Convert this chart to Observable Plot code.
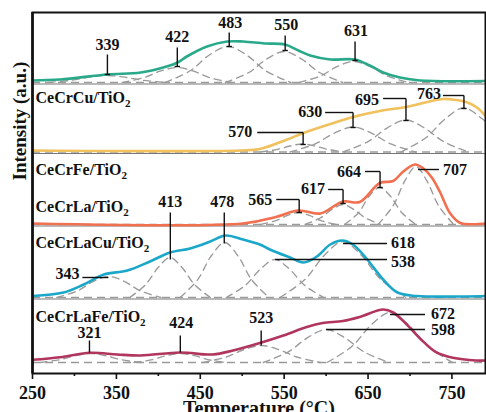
<!DOCTYPE html>
<html><head><meta charset="utf-8">
<script src="https://cdn.jsdelivr.net/npm/d3@7"></script>
<script src="https://cdn.jsdelivr.net/npm/@observablehq/plot@0.6"></script>
<style>html,body{margin:0;padding:0;background:#fff;overflow:hidden}</style>
</head><body><div id="chart"></div>
<script>
// ---------- data (temperature °C, intensity a.u. above each trace's baseline) ----------
const panelNames = ["CeCrCu/TiO2", "CeCrFe/TiO2", "CeCrLa/TiO2", "CeCrLaCu/TiO2", "CeCrLaFe/TiO2"];
const xTicksMajor = [250, 350, 450, 550, 650, 750];
const xTicksMinor = [300, 400, 500, 600, 700];

// solid traces
const greenT  = [250,283,339,379,410,423,434,458,482,501,527,551,567,581,605,634,652,668,688,712,790];
const greenI  = [2,3,8,10,16,20,26,36,41,41,39,38,32,27,23,23,17,10,5,2,1.5];
const yellowT = [250,498,521,552,573,605,632,664,695,739,755,767,779,790];
const yellowI = [1.5,1.5,3,12,19,28,35,41,45,53,52,50,45,36];
const orangeT = [250,501,540,567,593,620,640,664,680,692,706,716,726,736,748,760,790];
const orangeI = [1,1,7.5,14,11,23,22.5,41.5,43.5,53,60,56,47,32,11,1.5,1];
const blueT   = [250,287,311,335,363,390,414,438,462,480,501,521,533,557,573,589,605,619,632,649,668,685,708,790];
const blueI   = [1.5,5,13,23,27,36,45,49,56,62,58,53,48,40,35,41,53,57,53,38,18,5,1.5,1.5];
const redT    = [250,283,319,351,379,426,465,489,521,549,577,596,620,640,668,680,695,712,731,751,779,790];
const redI    = [2.7,5.3,9.7,8,7,10,8,12,19.5,27,35.5,39.5,41.5,45.5,53,50,39,24,10.3,4.7,2,2];

// fitted (dashed) component peaks, [T, I] samples
const greenPeaks = [
  [[269,0],[297,2.3],[318,5.3],[339,7],[360,5.3],[381,2.3],[409,0]],
  [[357,0],[383,4.9],[402,11.3],[422,15],[442,11.3],[461,4.9],[487,0]],
  [[408,0],[438,11.7],[460,27],[483,36],[506,27],[528,11.7],[558,0]],
  [[480,0],[508,10],[529,23.4],[550,31],[571,23.4],[592,10],[620,0]],
  [[568,0],[594,6.8],[613,15.9],[633,21],[653,15.9],[672,6.8],[698,0]]
];
const yellowPeaks = [
  [[522,0],[542,2.6],[557,6],[572,8],[587,6],[602,2.6],[622,0]],
  [[557,0],[587,8.1],[610,18.9],[632,25],[654,18.9],[677,8.1],[707,0]],
  [[620,0],[650,10.4],[673,24.2],[695,32],[717,24.2],[740,10.4],[770,0]],
  [[689,0],[719,14.3],[742,33.2],[764,44],[786,33.2],[809,14.3],[839,0]]
];
const orangePeaks = [
  [[522,0],[540,3.9],[554,9.1],[567,12],[580,9.1],[594,3.9],[612,0]],
  [[575,0],[593,6.5],[607,15.1],[620,20],[633,15.1],[647,6.5],[665,0]],
  [[622,0],[639,12],[651,28],[664,37],[677,28],[690,12],[707,0]],
  [[662,0],[680,18.9],[694,43.8],[707,58],[720,43.8],[734,18.9],[752,0]]
];
const bluePeaks = [
  [[279,0],[304,6.8],[322,15.9],[341,21],[360,15.9],[378,6.8],[403,0]],
  [[366,0],[385,13],[400,30.2],[414,40],[428,30.2],[443,13],[462,0]],
  [[426,0],[447,17.9],[463,41.5],[479,55],[495,41.5],[511,17.9],[532,0]],
  [[481,0],[504,12.4],[522,28.7],[539,38],[556,28.7],[574,12.4],[597,0]],
  [[545,0],[575,18.2],[598,42.3],[620,56],[642,42.3],[665,18.2],[695,0]]
];
const redPeaks = [
  [[259,0],[283,2.9],[301,6.8],[319,9],[337,6.8],[355,2.9],[379,0]],
  [[371,0],[393,2.9],[409,6.8],[426,9],[443,6.8],[459,2.9],[481,0]],
  [[453,0],[481,5.5],[502,12.8],[523,17],[544,12.8],[565,5.5],[593,0]],
  [[525,0],[555,10.7],[578,24.9],[600,33],[622,24.9],[645,10.7],[675,0]],
  [[601,0],[631,16.2],[654,37.8],[676,50],[698,37.8],[721,16.2],[751,0]]
];

// peak labels
const greenLabels  = ["339","422","483","550","631"];
const yellowLabels = ["570","630","695","763"];
const orangeLabels = ["565","617","664","707"];
const blueLabels   = ["343","413","478","618","538"];
const redLabels    = ["321","424","523","672","598"];

// ---------- layout (stack offsets, annotation placement) ----------
const panelBase = [291, 221.5, 149, 76, 11];
const separators = [289.5, 220, 147.5, 74.5];
const colors = ["#2aa98a", "#f0c15c", "#f0704f", "#1ba7c9", "#b1365e"];
const panelLabelPos = [[253.6,276],[253.6,204],[253.6,167],[253.6,131],[253.6,57]];
// label anchor [T, v] and leader polyline, cap flag
const greenAnno = [
  [339.3,329,[[339.3,319],[339.3,299]],1],
  [422.6,337,[[422.6,326],[422.6,307]],1],
  [485.7,351,[[484.5,341],[484.5,327]],1],
  [552.4,349,[[551.2,338],[551.2,323]],1],
  [635.7,343,[[634.5,332],[634.5,313]],1]
];
const yellowAnno = [
  [497.6,242,[[517.9,241],[572.6,241],[572.6,229]],1],
  [581,262,[[598.8,261],[632.1,261],[632.1,246]],1],
  [648.8,274,[[667.9,275],[695.2,275],[695.2,253]],1],
  [722.6,280,[[739.3,278],[764.3,278],[764.3,265]],1]
];
const orangeAnno = [
  [521.4,174,[[540.5,174],[567.9,174],[567.9,161]],1],
  [584.5,185,[[602.4,184],[620.2,184],[620.2,170]],1],
  [627.4,202,[[646.4,202],[664.3,202],[664.3,186]],1],
  [753.6,204,[[709.5,204],[734.5,204]],0]
];
const blueAnno = [
  [291.7,100,[[309.5,96],[340.5,96]],0],
  [414.3,172,[[414.3,161],[414.3,114]],0],
  [476.2,172,[[478.6,161],[478.6,130]],0],
  [691.7,131,[[620.2,130],[672.6,130]],0],
  [691.7,112,[[539.3,114],[672.6,114]],0]
];
const redAnno = [
  [317.9,41,[[317.9,33],[317.9,21]],0],
  [427.4,51,[[426.2,38],[426.2,21]],0],
  [522.6,56,[[522.6,43],[522.6,28]],0],
  [739.3,60,[[676.2,59],[717.9,59]],0],
  [739.3,44,[[600,44],[717.9,44]],0]
];

// ---------- build tables ----------
const traceT = [greenT, yellowT, orangeT, blueT, redT];
const traceI = [greenI, yellowI, orangeI, blueI, redI];
const peaks = [greenPeaks, yellowPeaks, orangePeaks, bluePeaks, redPeaks];
const labels = [greenLabels, yellowLabels, orangeLabels, blueLabels, redLabels];
const annos = [greenAnno, yellowAnno, orangeAnno, blueAnno, redAnno];

const traceRows = traceT.map((Ts, k) => Ts.map((t, i) => ({t, v: panelBase[k] + traceI[k][i]})));
const peakRows = peaks.flatMap((list, k) => list.flatMap((pts, j) =>
  pts.map(([t, i]) => ({id: k + "-" + j, t, v: panelBase[k] + i}))));
const labelRows = labels.flatMap((ls, k) => ls.map((s, j) => ({s, t: annos[k][j][0], v: annos[k][j][1]})));
const segRows = [];
annos.forEach(list => list.forEach(([tx, ty, pts, cap]) => {
  for (let i = 0; i < pts.length - 1; i++)
    segRows.push({x1: pts[i][0], y1: pts[i][1], x2: pts[i+1][0], y2: pts[i+1][1]});
  if (cap) {
    const [bx, by] = pts[pts.length - 1];
    segRows.push({x1: bx - 3.2, y1: by, x2: bx + 3.2, y2: by});
  }
}));
const nameRows = panelNames.map((s, k) => ({s, t: panelLabelPos[k][0], v: panelLabelPos[k][1]}));

const plot = Plot.plot({
  width: 486, height: 412,
  marginLeft: 32, marginRight: 1, marginTop: 12, marginBottom: 39,
  x: {domain: [250, 790], label: null},
  y: {domain: [0, 361], axis: null, label: null},
  style: {fontFamily: "'Liberation Serif','Times New Roman',serif", fontWeight: "bold", fontSize: "16px", color: "#111", background: "#fff", overflow: "hidden"},
  marks: [
    Plot.ruleY(separators, {stroke: "#777", strokeWidth: 1}),
    Plot.ruleY(panelBase, {stroke: "#9a9a9a", strokeWidth: 1.6, strokeDasharray: "8,5"}),
    Plot.line(peakRows, {x: "t", y: "v", z: "id", curve: "catmull-rom", stroke: "#9a9a9a", strokeWidth: 1.35, strokeDasharray: "7,5", clip: true}),
    ...traceRows.map((rows, k) => Plot.line(rows, {x: "t", y: "v", curve: "catmull-rom", stroke: colors[k], strokeWidth: 2.6, clip: true})),
    Plot.link(segRows, {x1: "x1", y1: "y1", x2: "x2", y2: "y2", stroke: "#111", strokeWidth: 1.4}),
    Plot.text(labelRows, {x: "t", y: "v", text: "s", fontSize: 16, fill: "#111"}),
    Plot.text(nameRows, {x: "t", y: "v", text: "s", fontSize: 16, fill: "#111", textAnchor: "start"}),
    Plot.text(["Intensity (a.u.)"], {y: [193], frameAnchor: "left", dx: -13, rotate: -90, fontSize: 19, fill: "#111"}),
    Plot.text(["Temperature (°C)"], {x: [520], frameAnchor: "bottom", dy: 27, lineAnchor: "top", fontSize: 20, fill: "#111"}),
    Plot.frame({stroke: "#111", strokeWidth: 2}),
    Plot.ruleX([250], {stroke: "#111", strokeWidth: 2.6}),
    Plot.axisX(xTicksMajor, {tickSize: 6, tickPadding: 7, fontSize: 18, label: null, stroke: "#111", strokeWidth: 1.6}),
    Plot.axisX(xTicksMinor, {tickSize: 3, tickFormat: () => "", label: null, stroke: "#111", strokeWidth: 1.6})
  ]
});
document.getElementById("chart").appendChild(plot);

// subscripts for TiO2
plot.querySelectorAll("text").forEach(el => {
  if (el.children.length === 0 && /TiO2$/.test(el.textContent)) {
    const base = el.textContent.slice(0, -1);
    el.textContent = base;
    const sub = document.createElementNS("http://www.w3.org/2000/svg", "tspan");
    sub.setAttribute("dy", "4");
    sub.setAttribute("font-size", "11");
    sub.textContent = "2";
    el.appendChild(sub);
  }
});
</script>
</body></html>
